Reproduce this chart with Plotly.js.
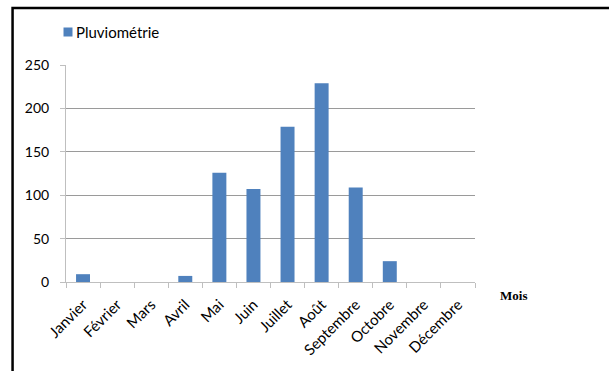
<!DOCTYPE html>
<html>
<head>
<meta charset="utf-8">
<script src="https://cdn.plot.ly/plotly-3.0.1.min.js"></script>
<style>html,body{margin:0;padding:0;background:#fff;}#chart{width:609px;height:371px;}</style>
</head>
<body>
<div id="chart"></div>
<script>
const months = ["Janvier","Février","Mars","Avril","Mai","Juin","Juillet","Août","Septembre","Octobre","Novembre","Décembre"];
const pluviometrie = [9, 0, 0, 7, 126, 107, 179, 229, 109, 24, 0, 0];
const seriesName = "Pluviométrie";
const xAxisTitle = "Mois";
const yTicks = [0, 50, 100, 150, 200, 250];

const W = 609, H = 371;
const L = 65.5, R = 475, T = 65, B = 282;
const pw = R - L, ph = B - T;
const px = x => (x - L) / pw;
const py = y => (B - y) / ph;
const barColor = "#4f81bd";
const FONT = "Lato, 'Open Sans', sans-serif";

const trace = {
  type: "bar",
  x: months,
  y: pluviometrie,
  name: seriesName,
  marker: {color: barColor},
  width: 0.41,
  showlegend: false
};

const layout = {
  width: W, height: H,
  margin: {l: L, r: W - R, t: T, b: H - B, pad: 0},
  paper_bgcolor: "#ffffff",
  plot_bgcolor: "#ffffff",
  font: {family: FONT, size: 14, color: "#000000"},
  showlegend: false,
  xaxis: {
    type: "category",
    tickangle: -45,
    showline: true, linecolor: "#bfbfbf", linewidth: 1,
    ticks: "outside", tickson: "boundaries", ticklen: 5, tickcolor: "#bfbfbf",
    ticklabelstandoff: 7,
    showgrid: false, zeroline: false,
    tickfont: {family: FONT, size: 15, color: "#000"}
  },
  yaxis: {
    range: [0, 250],
    tickvals: yTicks,
    showline: true, linecolor: "#bfbfbf", linewidth: 1,
    ticks: "outside", ticklen: 5, tickcolor: "#bfbfbf",
    ticklabelstandoff: 8,
    showgrid: true, gridcolor: "#9a9a9a", gridwidth: 1,
    zeroline: false,
    tickfont: {family: FONT, size: 14, color: "#000"}
  },
  annotations: [{
    text: "<b>" + xAxisTitle + "</b>",
    xref: "paper", yref: "paper",
    x: px(514), y: py(295),
    xanchor: "center", yanchor: "middle",
    showarrow: false,
    font: {family: "'Liberation Serif', 'DejaVu Serif', serif", size: 13, color: "#000"}
  }, {
    text: seriesName,
    xref: "paper", yref: "paper",
    x: px(74), y: py(32),
    xanchor: "left", yanchor: "middle",
    showarrow: false,
    font: {family: FONT, size: 15, color: "#000"}
  }],
  shapes: [{
    type: "rect", xref: "paper", yref: "paper",
    x0: px(63), x1: px(72), y0: py(36.5), y1: py(27.5),
    fillcolor: barColor, line: {width: 0}
  }, {
    type: "path", xref: "paper", yref: "paper",
    path: "M " + px(12) + " " + py(H + 5) + " L " + px(12) + " " + py(8) + " L " + px(W + 5) + " " + py(8),
    line: {color: "#000000", width: 2.5}
  }]
};

Plotly.newPlot("chart", [trace], layout, {displayModeBar: false, staticPlot: true});
</script>
</body>
</html>
